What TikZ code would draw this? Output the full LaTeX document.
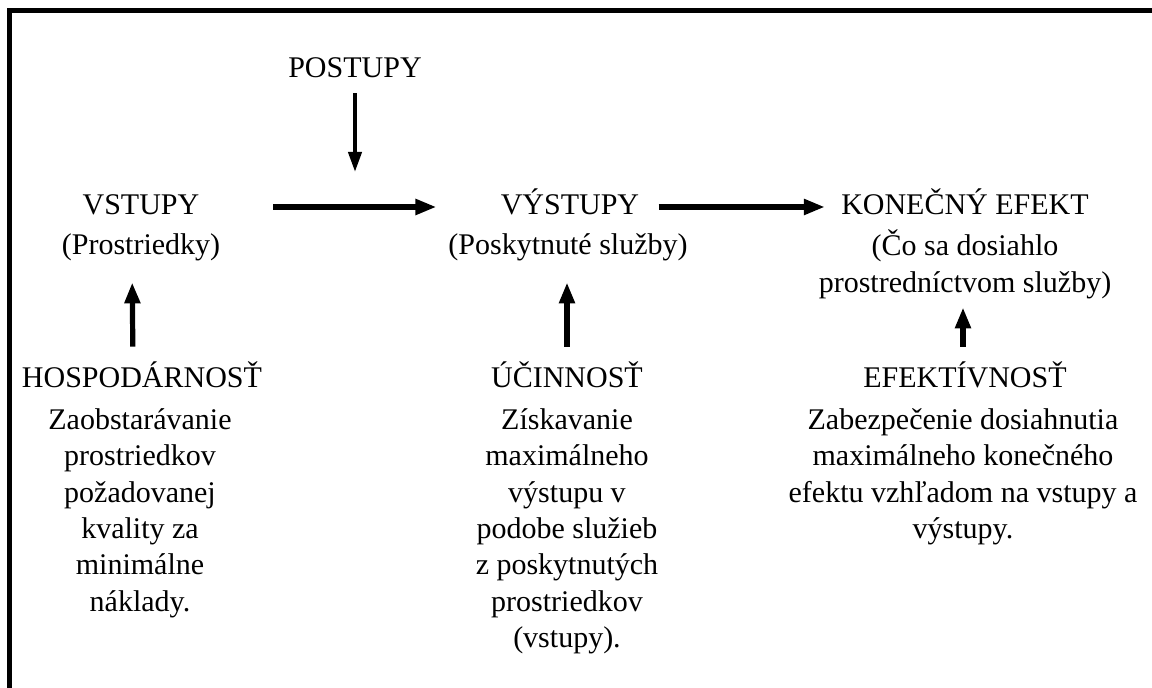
\documentclass[tikz,border=0pt]{standalone}
\usepackage{fontspec}
\setmainfont{Liberation Serif}
\usepackage{tikz}
\usetikzlibrary{arrows.meta}

\begin{document}
\begin{tikzpicture}[x=0.5pt, y=-0.5pt,
        head/.style={inner sep=0pt, text height=11pt, text depth=3pt, font=\fontsize{15}{18}\selectfont},
        body/.style={inner sep=0pt, anchor=north, align=center, font=\fontsize{15}{18.2}\selectfont},
        arr/.style={line width=2.6pt, -{Triangle[length=10.5pt,width=7.5pt]}},
        thinarr/.style={line width=2pt, -{Triangle[length=10pt,width=6.5pt]}}]
        \useasboundingbox (0, 0) rectangle (1152, 688);
        \draw[line width=2.4pt] (1160, 10.5) -- (9.5, 10.5) -- (9.5, 700);

        \node[head, anchor=base] (postupy) at (355, 78) {POSTUPY};
        \coordinate (postend) at (355, 172);

        \node[head, anchor=base] (vstupy) at (141, 215) {VSTUPY};
        \node[head, anchor=base] (prostr) at (141, 255) {(Prostriedky)};
        \node[head, anchor=base] (vystupy) at (570, 215) {VÝSTUPY};
        \node[head, anchor=base] (sluzby) at (568, 255) {(Poskytnuté služby)};
        \node[head, anchor=base] (efekt) at (965, 215) {KONEČNÝ EFEKT};
        \node[head, anchor=base] (efpop1) at (965, 256) {(Čo sa dosiahlo};
        \node[head, anchor=base] (efpop2) at (965, 293) {prostredníctvom služby)};

        \node[head, anchor=base] (hosp) at (142, 388) {HOSPODÁRNOSŤ};
        \node[head, anchor=base] (ucin) at (567, 388) {ÚČINNOSŤ};
        \node[head, anchor=base] (efekt2) at (965, 388) {EFEKTÍVNOSŤ};

        \node[body] (hosptxt) at (140, 408) {Zaobstarávanie\\prostriedkov\\požadovanej\\kvality za\\minimálne\\náklady.};
        \node[body] (ucintxt) at (567, 408) {Získavanie\\maximálneho\\výstupu v\\podobe služieb\\z poskytnutých\\prostriedkov\\(vstupy).};
        \node[body] (efekttxt) at (963, 408) {Zabezpečenie dosiahnutia\\maximálneho konečného\\efektu vzhľadom na vstupy a\\výstupy.};

        \draw[thinarr, shorten <=4.5pt] (postupy) -- (postend);
        \draw[arr, shorten <=36.8pt, shorten >=32pt] (vstupy) -- (vystupy);
        \draw[arr, shorten <=9.5pt, shorten >=8pt] (vystupy) -- (efekt);
        \draw[arr, shorten <=9.5pt, shorten >=10.5pt] ([xshift=-4.5pt]hosp.north) -- ([xshift=-4.5pt]prostr.south);
        \draw[arr, shorten <=9.5pt, shorten >=10.5pt] (ucin.north) -- ([xshift=-0.5pt]sluzby.south);
        \draw[arr, shorten <=9.5pt, shorten >=4pt] ([xshift=-1pt]efekt2.north) -- ([xshift=-1pt]efpop2.south);
    \end{tikzpicture}
\end{document}
